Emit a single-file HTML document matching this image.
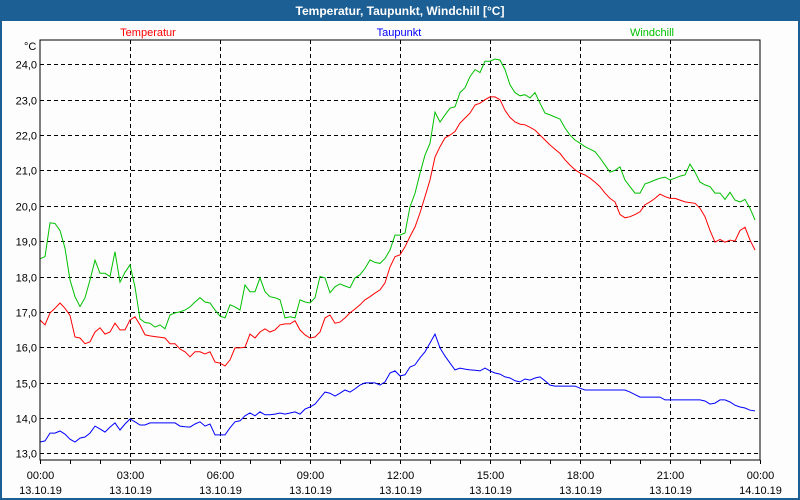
<!DOCTYPE html>
<html><head><meta charset="utf-8"><style>
html,body{margin:0;padding:0;background:#fff}
svg{display:block;font-family:"Liberation Sans",sans-serif}
</style></head><body>
<svg width="800" height="500" viewBox="0 0 800 500" id="chart">
<rect x="0" y="0" width="800" height="500" fill="#1c5f95"/>
<rect x="2" y="21" width="796" height="477" fill="#fdfdfd"/>
<text x="400" y="15" text-anchor="middle" fill="#fff" font-weight="bold" font-size="12">Temperatur, Taupunkt, Windchill [°C]</text>
<text x="148" y="36" text-anchor="middle" fill="#ff0000" font-size="11">Temperatur</text>
<text x="399" y="36" text-anchor="middle" fill="#0000ff" font-size="11">Taupunkt</text>
<text x="652" y="36" text-anchor="middle" fill="#00c000" font-size="11">Windchill</text>
<text x="24" y="50" fill="#000" font-size="11">°C</text>
<g id="grid"></g>
<g id="series"></g>
<rect x="40" y="40" width="720" height="420" fill="none" stroke="#000" stroke-width="1"/>
<g id="axes"></g>
</svg>
<script>
const intervalMinutes = 10;
const yTicks = [13,14,15,16,17,18,19,20,21,22,23,24];
const xTickHours = [0,3,6,9,12,15,18,21,24];
const xTickTimes = ["00:00","03:00","06:00","09:00","12:00","15:00","18:00","21:00","00:00"];
const xTickDates = ["13.10.19","13.10.19","13.10.19","13.10.19","13.10.19","13.10.19","13.10.19","13.10.19","14.10.19"];
const temperatur = [16.77,16.63,16.97,17.1,17.25,17.1,16.9,16.29,16.26,16.1,16.15,16.43,16.55,16.37,16.43,16.68,16.49,16.49,16.77,16.86,16.63,16.35,16.32,16.3,16.28,16.26,16.1,16.1,15.95,15.87,15.73,15.87,15.87,15.81,15.87,15.58,15.55,15.47,15.64,15.98,15.98,16.0,16.37,16.26,16.43,16.52,16.43,16.49,16.63,16.66,16.66,16.75,16.49,16.35,16.26,16.29,16.43,16.83,16.91,16.68,16.71,16.83,16.97,17.08,17.2,17.34,17.43,17.53,17.62,17.82,18.27,18.56,18.61,18.84,19.13,19.4,19.8,20.26,20.73,21.38,21.67,21.92,22.0,22.1,22.34,22.48,22.62,22.85,22.9,23.0,23.08,23.08,23.0,22.7,22.5,22.37,22.31,22.29,22.22,22.14,22.0,21.86,21.72,21.6,21.48,21.3,21.15,21.02,20.93,20.87,20.78,20.67,20.54,20.36,20.21,20.11,19.75,19.66,19.69,19.75,19.83,20.03,20.11,20.21,20.33,20.26,20.21,20.21,20.16,20.11,20.09,20.07,19.93,19.69,19.3,18.97,19.05,18.97,19.03,19.0,19.3,19.39,19.03,18.75];
const taupunkt = [13.32,13.35,13.57,13.57,13.63,13.54,13.4,13.32,13.43,13.46,13.57,13.77,13.69,13.6,13.74,13.86,13.66,13.83,13.97,13.89,13.8,13.8,13.86,13.86,13.86,13.86,13.86,13.86,13.77,13.75,13.74,13.83,13.89,13.77,13.83,13.52,13.52,13.52,13.72,13.89,13.92,14.06,14.14,14.06,14.17,14.09,14.09,14.11,14.14,14.11,14.14,14.17,14.11,14.25,14.31,14.39,14.56,14.73,14.7,14.62,14.7,14.79,14.73,14.82,14.93,14.99,14.99,14.99,14.93,15.02,15.27,15.33,15.19,15.22,15.44,15.5,15.7,15.87,16.12,16.37,15.98,15.75,15.55,15.36,15.41,15.38,15.36,15.35,15.33,15.41,15.33,15.27,15.24,15.16,15.13,15.05,15.02,15.1,15.07,15.13,15.16,15.05,14.93,14.9,14.9,14.9,14.9,14.9,14.84,14.79,14.79,14.79,14.79,14.79,14.79,14.79,14.79,14.79,14.73,14.66,14.59,14.59,14.59,14.59,14.59,14.51,14.51,14.51,14.51,14.51,14.51,14.51,14.51,14.48,14.39,14.42,14.51,14.51,14.45,14.36,14.31,14.28,14.22,14.2];
const windchill = [18.5,18.56,19.52,19.5,19.3,18.8,17.9,17.43,17.15,17.4,17.9,18.46,18.09,18.09,18.0,18.7,17.84,18.12,18.33,17.7,16.8,16.7,16.68,16.57,16.63,16.52,16.91,16.97,17.0,17.05,17.14,17.28,17.4,17.28,17.25,17.05,16.88,16.83,17.2,17.14,17.05,17.76,17.57,17.57,17.96,17.57,17.43,17.4,17.34,16.83,16.86,16.83,17.34,17.28,17.25,17.4,18.0,17.96,17.54,17.71,17.79,17.73,17.68,17.96,18.05,18.23,18.47,18.4,18.37,18.51,18.75,19.17,19.17,19.23,19.97,20.35,20.92,21.43,21.77,22.65,22.37,22.57,22.76,22.8,23.2,23.34,23.65,23.85,23.77,24.09,24.09,24.15,24.12,23.85,23.42,23.2,23.11,23.14,23.05,23.2,22.9,22.62,22.57,22.51,22.45,22.2,22.0,21.86,21.77,21.67,21.6,21.53,21.35,21.15,20.95,21.0,21.1,20.73,20.54,20.36,20.36,20.62,20.67,20.73,20.78,20.81,20.73,20.78,20.84,20.87,21.18,20.95,20.67,20.59,20.54,20.36,20.36,20.18,20.38,20.16,20.11,20.18,19.93,19.6];

const NS = "http://www.w3.org/2000/svg";
const X0 = 40, X1 = 760, Y13 = 453.3, PX_PER_DEG = 35.36;
function xScale(hours){ return X0 + (X1 - X0) * hours / 24; }
function yScale(v){ return Y13 - (v - 13) * PX_PER_DEG; }
function mk(tag, attrs, parent){
  const e = document.createElementNS(NS, tag);
  for (const k in attrs) e.setAttribute(k, attrs[k]);
  parent.appendChild(e);
  return e;
}
const grid = document.getElementById("grid");
const axes = document.getElementById("axes");
const series = document.getElementById("series");

yTicks.forEach(v => {
  const y = Math.round(yScale(v)) + 0.5;
  const gl = mk("line", {x1: X0, x2: X1, y1: y, y2: y, stroke: "#000", "stroke-dasharray": "4,3"}, grid);
  
  
  const t = mk("text", {x: 37, y: y + 4, "text-anchor": "end", "font-size": "11", fill: "#000"}, axes);
  t.textContent = v.toFixed(1).replace(".", ",");
  
  
});
xTickHours.forEach((h, i) => {
  const x = Math.round(xScale(h)) + 0.5;
  if (h > 0 && h < 24) {
    const gl = mk("line", {x1: x, x2: x, y1: 40, y2: 460, stroke: "#000", "stroke-dasharray": "4,3"}, grid);
    
    
  }
  const t1 = mk("text", {x: x, y: 479, "text-anchor": "middle", "font-size": "11", fill: "#000"}, axes);
  t1.textContent = xTickTimes[i];
  
  
  const t2 = mk("text", {x: x, y: 494, "text-anchor": "middle", "font-size": "11", fill: "#000"}, axes);
  t2.textContent = xTickDates[i];
  
  
});
for (let h = 0; h <= 24; h++) {
  const x = Math.round(xScale(h)) + 0.5;
  const tk = mk("line", {x1: x, x2: x, y1: 460, y2: 464, stroke: "#000"}, axes);
  
  
}
function drawSeries(vals, color, name){
  const pts = vals.map((v, i) => xScale(i * intervalMinutes / 60).toFixed(1) + "," + yScale(v).toFixed(1)).join(" ");
  const pl = mk("polyline", {points: pts, fill: "none", stroke: color, "stroke-width": "1"}, series);
  
  
}
drawSeries(windchill, "#00c000", "windchill-line");
drawSeries(temperatur, "#ff0000", "temperatur-line");
drawSeries(taupunkt, "#0000ff", "taupunkt-line");
</script>
</body></html>
